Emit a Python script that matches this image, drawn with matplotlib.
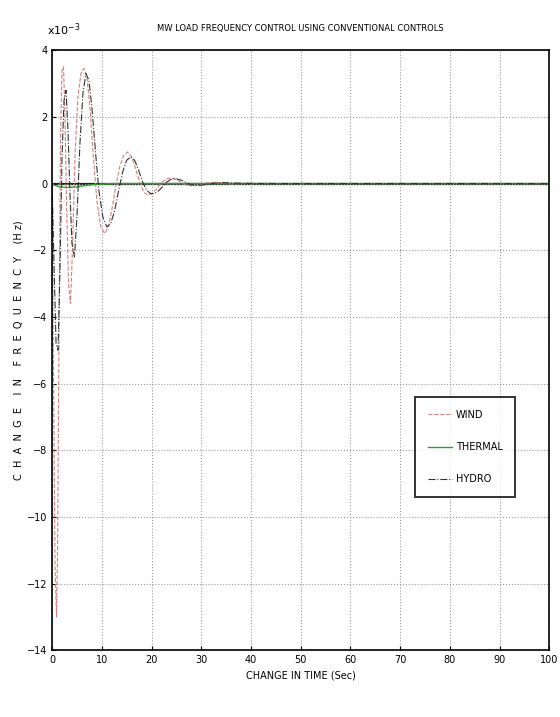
import matplotlib.pyplot as plt
import numpy as np

# values in units of 1e-3 Hz
t_wind = [0, 0.3, 0.6, 0.9, 1.1, 1.4, 1.7, 2.0, 2.3, 2.6, 2.9, 3.3, 3.7, 4.1, 4.6,
          5.2, 5.8, 6.4, 7.0, 7.6, 8.3, 9.0, 9.8, 10.6, 11.3, 12.0, 12.8, 13.6,
          14.4, 15.2, 16.0, 16.8, 17.6, 18.4, 19.2, 20.0, 20.8, 21.6, 22.4, 23.2,
          24.0, 25.0, 26.0, 27.0, 28.0, 29.5, 31.0, 32.5, 34.0, 36.0, 38.0, 40.0,
          45.0, 50.0, 100.0]
v_wind = [0, -6.0, -11.5, -13.0, -11.0, -4.5, 1.5, 3.4, 3.5, 2.0, -0.5, -3.0, -3.6, -2.0, 0.8,
          2.6, 3.3, 3.45, 3.2, 2.3, 0.8, -0.5, -1.3, -1.5, -1.3, -0.8, -0.1, 0.5,
          0.85, 0.95, 0.8, 0.45, 0.05, -0.25, -0.35, -0.3, -0.2, -0.05, 0.08, 0.15,
          0.17, 0.12, 0.03, -0.05, -0.07, -0.04, 0.02, 0.04, 0.02, -0.01, 0.0, 0.01,
          0.0, 0.0, 0.0]

t_thermal = [0, 0.5, 1.5, 3.0, 5.0, 7.0, 9.0, 12.0, 100.0]
v_thermal = [0, -0.05, -0.1, -0.12, -0.1, -0.05, -0.02, 0.0, 0.0]

t_hydro = [0, 0.4, 0.8, 1.2, 1.6, 2.0, 2.4, 2.8, 3.2, 3.6, 4.0, 4.5, 5.0, 5.6, 6.2,
           6.8, 7.4, 8.0, 8.7, 9.4, 10.2, 11.0, 11.8, 12.6, 13.4, 14.2, 15.0,
           15.8, 16.6, 17.4, 18.2, 19.0, 19.8, 20.6, 21.4, 22.2, 23.0, 24.0,
           25.0, 26.0, 27.0, 28.0, 29.5, 31.0, 32.5, 34.0, 36.0, 40.0, 45.0,
           50.0, 100.0]
v_hydro = [0, -2.5, -4.8, -5.0, -2.5, 0.8, 2.5, 2.8, 1.6, -0.3, -1.8, -2.2, -1.0, 1.2, 2.7,
           3.3, 3.1, 2.3, 1.0, -0.2, -1.0, -1.3, -1.2, -0.8, -0.2, 0.35, 0.7,
           0.8, 0.7, 0.4, 0.05, -0.2, -0.3, -0.3, -0.22, -0.1, 0.04, 0.13,
           0.14, 0.1, 0.03, -0.04, -0.06, -0.03, 0.01, 0.03, 0.02, 0.0, 0.0,
           0.0, 0.0]

x_ticks = np.arange(0, 101, 10)
y_ticks = np.arange(-14, 5, 2)

plt.rcParams['font.family'] = ['Liberation Sans Narrow', 'DejaVu Sans']

fig = plt.figure(figsize=(5.6, 7.17), dpi=100)
ax = fig.add_axes([0.093, 0.093, 0.888, 0.837])

ax.plot(t_wind, v_wind, color='#d08080', linestyle='--', linewidth=0.8, label='WIND')
ax.plot(t_thermal, v_thermal, color='#2ca02c', linestyle='-', linewidth=1.0, label='THERMAL')
ax.plot(t_hydro, v_hydro, color='#333333', linestyle='-.', linewidth=0.8, label='HYDRO')
ax.axhline(0, color='#222222', linewidth=1.6, zorder=1)

ax.set_xlim(0, 100)
ax.set_ylim(-14, 4)
ax.set_xticks(x_ticks)
ax.set_yticks(y_ticks)
ax.tick_params(labelsize=7, direction='in', length=3)
ax.grid(True, linestyle=':', color='#999999', linewidth=0.8)
for s in ax.spines.values():
    s.set_linewidth(1.2)

ax.text(-0.01, 1.02, r'x10$^{-3}$', transform=ax.transAxes, fontsize=8, ha='left', va='bottom')
ax.set_title('MW LOAD FREQUENCY CONTROL USING CONVENTIONAL CONTROLS', fontsize=6, pad=14)
ax.set_xlabel('CHANGE IN TIME (Sec)', fontsize=7)
ax.set_ylabel('C  H  A  N  G  E    I  N    F  R  E  Q  U  E  N  C  Y    (H z)',
              fontsize=7, labelpad=2)

leg = ax.legend(loc='upper left', bbox_to_anchor=(0.72, 0.43),
                fontsize=7, frameon=True, fancybox=False, edgecolor='black',
                handlelength=2.5, labelspacing=2.3, borderpad=1.3, handletextpad=0.4)
leg.get_frame().set_linewidth(1.4)

fig.savefig('out.png', dpi=100)
